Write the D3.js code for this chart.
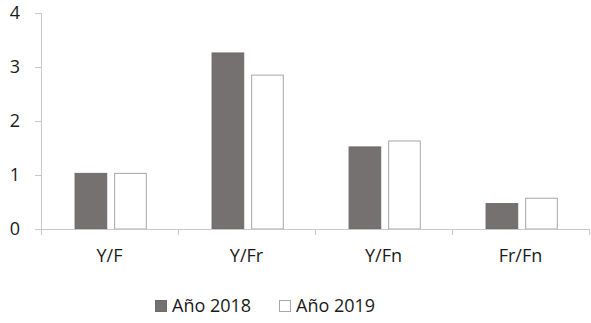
<!DOCTYPE html>
<html>
<head>
<meta charset="utf-8">
<script src="https://cdn.jsdelivr.net/npm/d3@7"></script>
<style>
  body { margin: 0; background: #fff; }
  text { font-family: "Open Sans", "Liberation Sans", sans-serif; fill: #1a1a1a; }
</style>
</head>
<body>
<div id="chart"></div>
<script>
// Data
var categories = ["Y/F", "Y/Fr", "Y/Fn", "Fr/Fn"];
var series = ["Año 2018", "Año 2019"];
var values2018 = [1.03, 3.26, 1.52, 0.47];
var values2019 = [1.03, 2.85, 1.63, 0.57];
var yTicks = [0, 1, 2, 3, 4];

var svgWidth = 591;
var svgHeight = 323;
var margin = { top: 13, right: 2, bottom: 94, left: 41 };
var width = svgWidth - margin.left - margin.right;
var height = svgHeight - margin.top - margin.bottom;

var svg = d3.select("#chart")
    .append("svg")
    .attr("width", svgWidth)
    .attr("height", svgHeight);

var chartGroup = svg.append("g")
    .attr("transform", `translate(${margin.left},${margin.top})`);

var x0 = d3.scaleBand()
    .domain(categories)
    .range([0, width]);

var x1 = d3.scaleBand()
    .domain(series)
    .range([0, x0.bandwidth() * 0.52])
    .paddingInner(0.2);

var y = d3.scaleLinear()
    .domain([0, 4])
    .range([height, 0]);

var colors = { "Año 2018": "#767171", "Año 2019": "#ffffff" };
var strokes = { "Año 2018": "#6e6a6a", "Año 2019": "#a6a6a6" };

// y axis
var leftAxis = d3.axisLeft(y).tickValues(yTicks).tickFormat(d3.format("d")).tickSize(6).tickPadding(15);
var yAxis = chartGroup.append("g").call(leftAxis);
yAxis.select(".domain").attr("stroke", "#c8c8c8");
yAxis.selectAll(".tick line").attr("stroke", "#c8c8c8");
yAxis.selectAll(".tick text").style("font-size", "18px").attr("fill", "#1a1a1a");

// bars
var table = categories.map((c, i) => ({ cat: c, vals: [
    { s: series[0], v: values2018[i] },
    { s: series[1], v: values2019[i] }
] }));

var groups = chartGroup.selectAll(".grp")
    .data(table)
    .enter()
    .append("g")
    .attr("transform", d => `translate(${x0(d.cat) + x0.bandwidth() * 0.245},0)`);

groups.selectAll("rect")
    .data(d => d.vals)
    .enter()
    .append("rect")
    .attr("x", d => x1(d.s) + 0.5)
    .attr("y", d => y(d.v))
    .attr("width", x1.bandwidth())
    .attr("height", d => height - y(d.v))
    .attr("fill", d => colors[d.s])
    .attr("stroke", d => strokes[d.s])
    .attr("stroke-width", 1);

// x axis
var bottomAxis = d3.axisBottom(x0).tickSize(0).tickPadding(20);
var xAxis = chartGroup.append("g")
    .attr("transform", `translate(0,${height})`)
    .call(bottomAxis);
xAxis.select(".domain").attr("stroke", "#c8c8c8");
xAxis.selectAll(".tick text").style("font-size", "18px").attr("fill", "#1a1a1a");

// category separators
var seps = categories.map(c => x0(c)).concat([width]);
chartGroup.selectAll(".sep")
    .data(seps)
    .enter()
    .append("line")
    .attr("x1", d => Math.round(d) + 0.5)
    .attr("x2", d => Math.round(d) + 0.5)
    .attr("y1", height)
    .attr("y2", height + 6)
    .attr("stroke", "#c8c8c8");

// legend
var legendX = [155, 279];
var legend = svg.selectAll(".legend")
    .data(series)
    .enter()
    .append("g")
    .attr("transform", (d, i) => `translate(${legendX[i]},300)`);

legend.append("rect")
    .attr("x", 0.5)
    .attr("y", 0.5)
    .attr("width", 11)
    .attr("height", 11)
    .attr("fill", d => colors[d])
    .attr("stroke", d => strokes[d]);

legend.append("text")
    .attr("x", 17)
    .attr("y", 12)
    .style("font-size", "18px")
    .text(d => d);
</script>
</body>
</html>
